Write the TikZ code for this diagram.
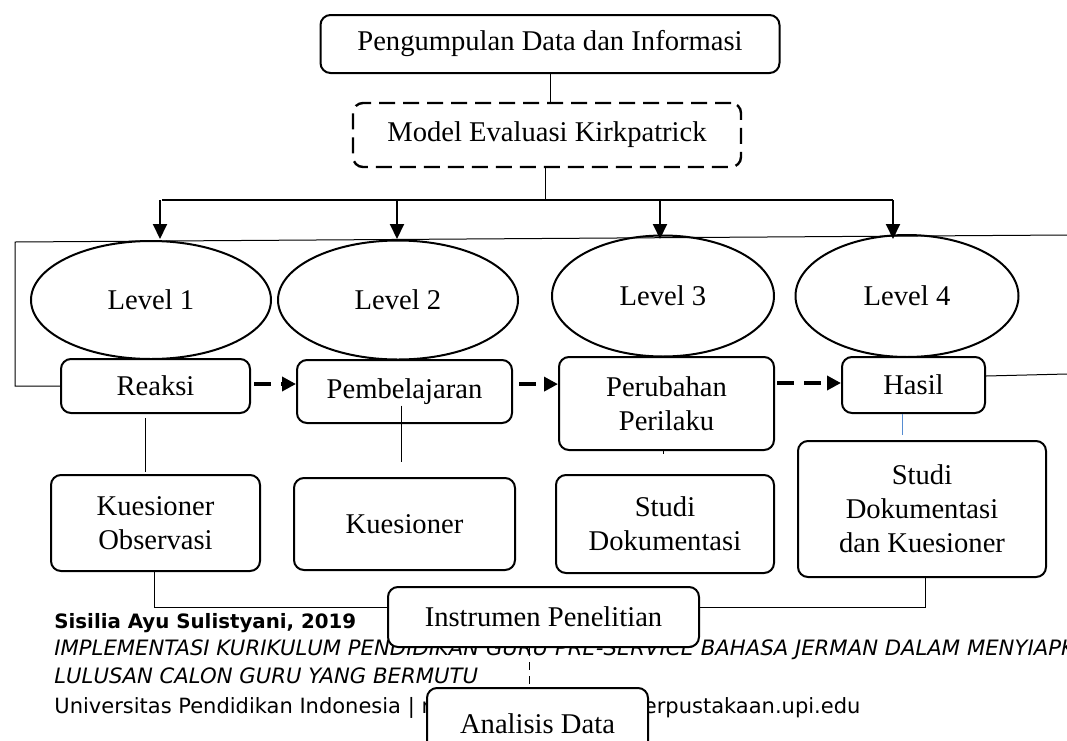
\documentclass[tikz,border=0pt]{standalone}
\usepackage{fontspec}
\setmainfont{Liberation Serif}
\newfontfamily\footfont{DejaVu Sans}
\usetikzlibrary{shapes.geometric,arrows.meta}

\tikzset{
  box/.style={draw, line width=1pt, rounded corners=5pt, fill=white, align=center,
    inner sep=2pt, font=\fontsize{14.3}{17}\selectfont},
  lvl/.style={draw, ellipse, line width=1pt, inner sep=0pt, font=\fontsize{14.3}{17}\selectfont},
  link/.style={line width=0.5pt},
  flow/.style={line width=2pt, dash pattern=on 8.5pt off 5pt, -{Triangle[length=7pt,width=7pt]}},
  drop/.style={line width=1pt, -{Triangle[length=7.5pt,width=7pt]}},
  foot/.style={anchor=base west, inner sep=0pt, font=\footfont\fontsize{10.5}{12}\selectfont},
}

\begin{document}
\begin{tikzpicture}[x=0.5pt,y=-0.5pt]
  \useasboundingbox (0,0) rectangle (1067,740);
  \clip (0,0) rectangle (1067,740);

  % page footer (lies under the boxes)
  \node[foot] (author) at (54,628) {\fontsize{9.9}{12}\selectfont\bfseries Sisilia Ayu Sulistyani, 2019};
  \node[foot] (title1) at (54,655) {\fontsize{10.6}{12}\selectfont\itshape IMPLEMENTASI KURIKULUM PENDIDIKAN GURU PRE-SERVICE BAHASA JERMAN DALAM MENYIAPKAN};
  \node[foot] (title2) at (54,683) {\fontsize{10.6}{12}\selectfont\itshape LULUSAN CALON GURU YANG BERMUTU};
  \node[foot] (univ) at (54,713) {Universitas Pendidikan Indonesia | repository.upi.edu | perpustakaan.upi.edu};

  % top of the chart
  \node[box, minimum width=229.5pt, minimum height=29pt] (info) at (550,44) {Pengumpulan Data dan Informasi};
  \node[box, line width=1.2pt, dash pattern=on 8pt off 4pt, minimum width=194pt, minimum height=32pt] (model) at (547,135) {Model Evaluasi Kirkpatrick};

  \draw[link] (info.south) -- (info.south |- model.north);
  \coordinate (fork) at (545,200);
  \draw[link] ([xshift=-1pt]model.south) -- (fork);
  \coordinate (forkL) at (162,200);
  \coordinate (forkR) at (893,200);
  \draw[link, line width=0.8pt] (forkL) -- (forkR);

  % the four levels
  \node[lvl, minimum width=120pt, minimum height=59pt] (lv1) at (151,300) {Level 1};
  \node[lvl, minimum width=120pt, minimum height=59.5pt] (lv2) at (398,300) {Level 2};
  \node[lvl, minimum width=111pt, minimum height=60.5pt] (lv3) at (663,296) {Level 3};
  \node[lvl, minimum width=111.5pt, minimum height=61pt] (lv4) at (907,296) {Level 4};

  \foreach \px/\nm in {160/a,397/b,660/c,893/d}{
    \coordinate (top\nm) at (\px,200);
    \coordinate (tip\nm) at (\px,239);
    \draw[drop] (top\nm) -- (tip\nm);
  }

  % stages
  \node[box, minimum width=94.5pt, minimum height=27pt] (reaksi) at (155.5,386) {Reaksi};
  \node[box, minimum width=107.5pt, minimum height=31.5pt] (belajar) at (404.5,391.5) {Pembelajaran};
  \node[box, minimum width=107.5pt, minimum height=46.5pt] (perilaku) at (666.5,403.5) {Perubahan\\Perilaku};
  \node[box, minimum width=71.5pt, minimum height=28pt] (hasil) at (913.5,385) {Hasil};

  % loop line round the levels
  \coordinate (loopR) at (1067,235);
  \coordinate (loopL) at (15,242);
  \draw[link] (loopR) -- (loopL) -- (loopL |- reaksi.west) -- (reaksi.west);
  \coordinate (edgeR) at (1067,374);
  \draw[link] ([yshift=4.5pt]hasil.east) -- (edgeR);

  \draw[flow] ([xshift=1.5pt,yshift=1pt]reaksi.east) -- ([yshift=1pt]reaksi.east -| belajar.west);
  \draw[flow] ([xshift=3pt,yshift=3.7pt]belajar.east) -- ([yshift=3.7pt]belajar.east -| perilaku.west);
  \draw[flow] ([xshift=1pt,yshift=1pt]perilaku.east |- hasil.east) -- ([yshift=1pt]hasil.west);

  % instruments
  \node[box, minimum width=104.5pt, minimum height=48pt] (kobs) at (155.5,523) {Kuesioner\\Observasi};
  \node[box, minimum width=110.5pt, minimum height=46pt] (kues) at (404.5,524) {Kuesioner};
  \node[box, minimum width=109pt, minimum height=49pt] (sdok) at (665,524) {Studi\\Dokumentasi};
  \node[box, minimum width=124pt, minimum height=68pt] (sdk) at (922,509) {Studi\\Dokumentasi\\dan Kuesioner};

  \draw[link] ([xshift=-5.25pt,yshift=-2pt]reaksi.south) -- ([xshift=-5.25pt,yshift=1pt]reaksi.south |- kobs.north);
  \draw[link] ([xshift=-1.75pt,yshift=-7pt]belajar.center) -- ([xshift=-1.75pt,yshift=7.5pt]kues.north);
  \draw[link] ([xshift=-1.75pt]perilaku.south) -- ([xshift=-1.75pt,yshift=10pt]perilaku.south |- sdok.north);
  \draw[link, color=cyan!50!blue!70] ([xshift=-5.75pt]hasil.south) -- ([xshift=-5.75pt,yshift=2.5pt]hasil.south |- sdk.north);

  % instrument and analysis
  \node[box, minimum width=155.5pt, minimum height=30pt] (instr) at (543.5,617) {Instrumen Penelitian};
  \node[box, minimum width=110.5pt, minimum height=36pt] (analisis) at (537.5,724) {Analisis Data};

  \draw[link] ([xshift=-0.75pt]kobs.south) |- ([yshift=5pt]instr.west);
  \draw[link] ([xshift=1.5pt]sdk.south) |- ([yshift=5pt]instr.east);
  \draw[link, dash pattern=on 4pt off 3pt] ([xshift=-7.25pt]instr.south) -- ([xshift=-7.25pt]instr.south |- analisis.north);
\end{tikzpicture}
\end{document}
